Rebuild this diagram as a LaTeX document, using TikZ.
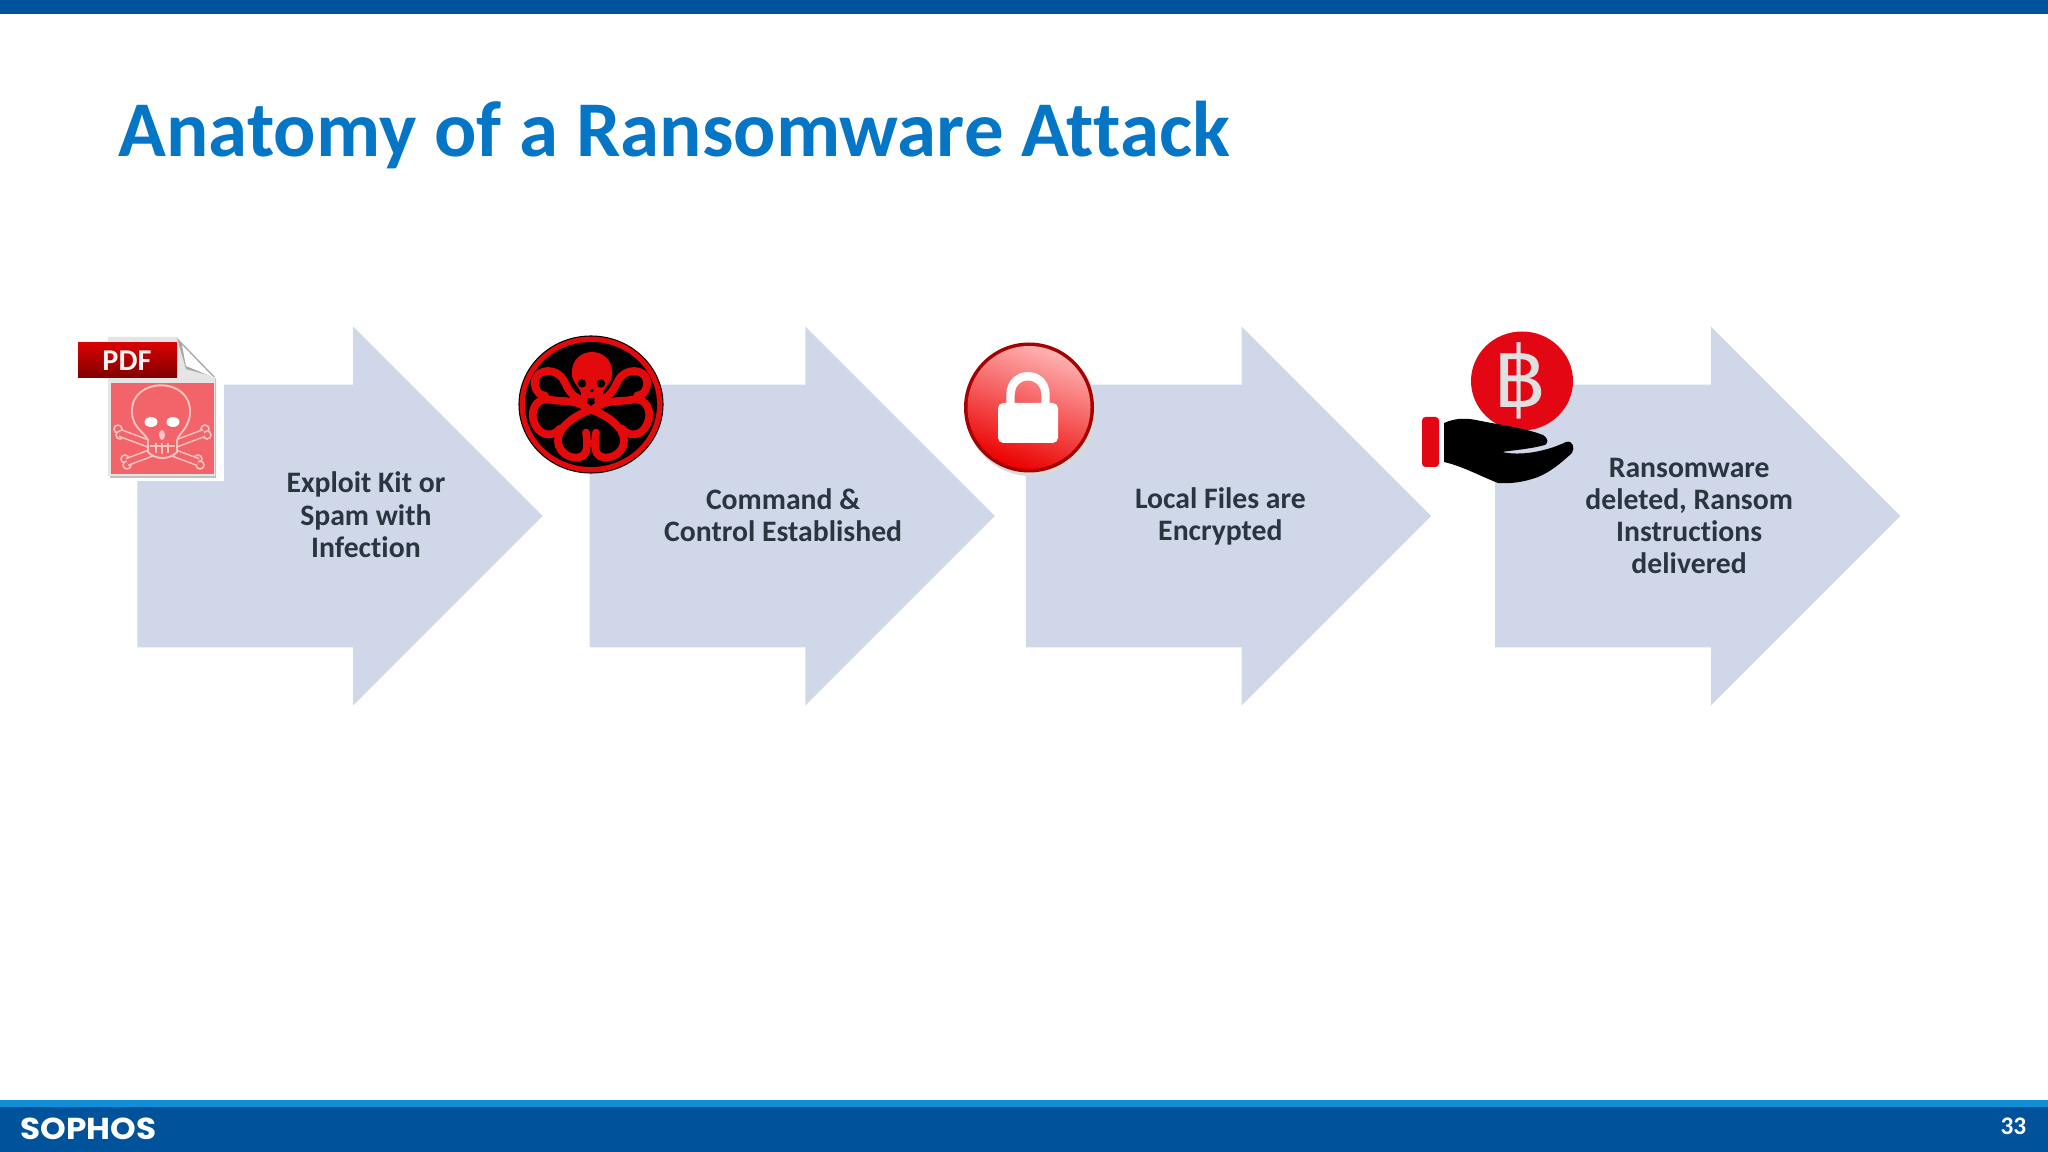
\documentclass[tikz,border=0pt]{standalone}
\usepackage{fontspec}
\setmainfont[Ligatures=NoCommon]{Carlito}
\newfontfamily\symbolfont{DejaVu Sans}
\newfontfamily\logofont{Poppins}
\usepackage{xcolor}
\usetikzlibrary{positioning,shapes.arrows}

\definecolor{topblue}{HTML}{00529B}
\definecolor{stripblue}{HTML}{0F8DD8}
\definecolor{titleblue}{HTML}{0575C5}
\definecolor{arrowblue}{HTML}{CFD7E9}
\definecolor{labelgrey}{HTML}{2B3540}
\definecolor{iconred}{HTML}{E30613}
\definecolor{hydrared}{HTML}{E20A0A}
\definecolor{pagepink}{HTML}{F2646A}
\definecolor{bonepink}{HTML}{F9C4C0}

\tikzset{
  stagearrow/.style={single arrow,fill=arrowblue,draw=none,inner xsep=0pt,inner ysep=1.305cm,anchor=tip,
    minimum height=4.05cm,minimum width=3.77cm,single arrow head extend=0.58cm,
    single arrow head indent=0cm,shape border rotate=0},
  stagelabel/.style={align=center,text=labelgrey,font=\fontsize{8.45}{9.15}\selectfont\bfseries,inner sep=0pt},
  bone/.style={line width=0.45pt,draw=bonepink,double=pagepink,double distance=1.5pt},
  tentacle/.style={draw=hydrared,line width=2.2pt,line cap=round}
}

\begin{document}
\begin{tikzpicture}[x=0.01cm,y=-0.01cm]
  \useasboundingbox (0,0) rectangle (2048,1152);

  % Frame
  \fill [topblue] (0,0) rectangle (2048,14);
  \fill [topblue] (0,1100) rectangle (2048,1152);
  \fill [stripblue] (0,1100) rectangle (2048,1107);
  \node [anchor=base west,inner sep=0pt,text=titleblue,font=\fontsize{22.45}{24}\selectfont\bfseries] (title) at (118,157) {Anatomy of a Ransomware Attack};
  \node [anchor=west,inner sep=0pt,text=white,font=\fontsize{8.6}{10}\logofont\bfseries,xscale=1.08] (logo) at (20,1129) {SOPHOS};
  \node [anchor=east,inner sep=0pt,text=white,font=\fontsize{7.2}{8}\selectfont\bfseries] (pageno) at (2027,1126) {33};

  % Stage 1
  \node [coordinate] (tip1) at (543.5,516) {};
  \node [stagearrow] (arrow1) at (tip1) {};
  \node [stagelabel] (label1) at ([xshift=-1.775cm,yshift=0.012cm]tip1) {Exploit Kit or\\Spam with\\Infection};

  % Stage 2
  \node [coordinate,right=4.52cm of tip1] (tip2) {};
  \node [stagearrow] (arrow2) at (tip2) {};
  \node [stagelabel] (label2) at ([xshift=-2.125cm,yshift=0.012cm]tip2) {Command \&\\Control Established};

  % Stage 3
  \node [coordinate,right=4.36cm of tip2] (tip3) {};
  \node [stagearrow] (arrow3) at (tip3) {};
  \node [stagelabel] (label3) at ([xshift=-2.115cm]tip3) {Local Files are\\Encrypted};

  % Stage 4
  \node [coordinate,right=4.69cm of tip3] (tip4) {};
  \node [stagearrow] (arrow4) at (tip4) {};
  \node [stagelabel] (label4) at ([xshift=-2.12cm]tip4) {Ransomware\\deleted, Ransom\\Instructions\\delivered};

  % PDF icon
  \fill [white] (100,335) rectangle (224,481);
  \fill [black!25] (110,340) -- (179,340) -- (216,379) -- (216,478) -- (110,478) -- cycle;
  \fill [black!10] (108,337) -- (177,337) -- (215,377) -- (215,476) -- (108,476) -- cycle;
  \fill [black!35] (177,338) -- (215,377) -- (186,369) -- cycle;
  \fill [white] (182,345) -- (213,377) -- (186,366) -- cycle;
  \fill [pagepink] (111,383) rectangle (214,474);
  \foreach \endx/\endy in {118/432,198/462,205/432,125/462} {
    \draw [draw=bonepink,fill=pagepink,line width=0.45pt] (\endx,\endy-3) circle [radius=4];
    \draw [draw=bonepink,fill=pagepink,line width=0.45pt] (\endx+2,\endy+3) circle [radius=4];
  }
  \draw [bone] (120,433) -- (198,462);
  \draw [bone] (204,433) -- (127,462);
  \draw [draw=bonepink,fill=pagepink,line width=0.55pt] (132,413) .. controls (130,376) and (192,376) .. (190,413) .. controls (189,428) and (180,432) .. (177,440) -- (177,452) .. controls (170,460) and (155,460) .. (148,452) -- (148,440) .. controls (144,432) and (133,428) .. (132,413) -- cycle;
  \fill [white] (151,422) circle [x radius=6.5,y radius=5];
  \fill [white] (173,422) circle [x radius=6.5,y radius=5];
  \fill [bonepink] (162,435) circle [x radius=3,y radius=5];
  \draw [bonepink,line width=0.4pt] (150,446) -- (175,446) (156,443) -- (156,453) (162,443) -- (162,454) (168,443) -- (168,453);
  \shade [top color=red!85!black,bottom color=red!50!black] (78,343) rectangle (177,378);
  \node [inner sep=0pt,text=black!5,font=\fontsize{8.6}{9}\selectfont\bfseries] (pdftag) at (127,361) {PDF};

  % Hydra icon
  \begin{scope}[shift={(591,404.5)}]
    \fill [hydrared,draw=black,line width=0.3pt] (0,0) circle [x radius=72,y radius=68.5];
    \fill [black] (0,0) circle [x radius=66,y radius=62.5];
    \fill [hydrared] (-19,-30) .. controls (-21,-60) and (23,-60) .. (21,-30) .. controls (21,-22) and (14,-18) .. (12,-12) -- (12,-6) -- (-10,-6) -- (-10,-12) .. controls (-12,-18) and (-19,-22) .. (-19,-30) -- cycle;
    \fill [black] (-9,-21) circle [radius=4.2] (10,-21) circle [radius=4.2];
    \fill [black] (1,-14) circle [radius=1.8];
    \foreach \side in {1,-1} {
      \begin{scope}[xscale=\side]
        \draw [tentacle] (-7,-4) .. controls (-24,-8) and (-24,-22) .. (-30,-28) .. controls (-40,-38) and (-58,-34) .. (-56,-19) .. controls (-55,-12) and (-50,-9) .. (-46,-9);
        \draw [tentacle] (-3,4) .. controls (-16,-6) and (-30,-2) .. (-42,-5) .. controls (-56,-7) and (-62,8) .. (-56,20) .. controls (-50,32) and (-38,33) .. (-31,24);
        \draw [tentacle] (-2,6) .. controls (-14,10) and (-33,22) .. (-33,36) .. controls (-33,52) and (-12,58) .. (-6,49) .. controls (-3,44) and (-4,34) .. (-5,28);
      \end{scope}
    }
  \end{scope}

  % Lock icon
  \begin{scope}[shift={(1029,407.5)}]
    \fill [black!15] (2,3) circle [radius=65.5];
    \fill [red!65!black] (0,0) circle [radius=65];
    \shade [shading=axis,top color=red!30!white,bottom color=red!92!black,shading angle=-20] (0,0) circle [radius=61.5];
  \end{scope}
  \fill [white,rounded corners=1.5pt] (998,403) rectangle (1058,443);
  \draw [white,line width=2.4pt] (1010.5,405) -- (1010.5,395) .. controls (1010.5,370) and (1045.5,370) .. (1045.5,395) -- (1045.5,405);

  % Coin and hand icon
  \fill [iconred] (1522,381) circle [x radius=51,y radius=49.5];
  \node [inner sep=0pt,text=black!12,font=\fontsize{24}{26}\symbolfont] (baht) at (1520,381) {\symbol{"0E3F}};
  \fill [iconred,rounded corners=1pt] (1422,417) rectangle (1439,467);
  \fill [black] (1444,423) .. controls (1455,418) and (1466,418) .. (1476,420) .. controls (1500,425) and (1525,428) .. (1543,435) .. controls (1549,439) and (1548,443) .. (1545,445) .. controls (1530,449) and (1515,450) .. (1502,452) .. controls (1520,456) and (1545,452) .. (1566,442) .. controls (1573,440) and (1575,448) .. (1572,453) .. controls (1560,464) and (1550,472) .. (1538,477) .. controls (1525,482) and (1510,484) .. (1498,483) .. controls (1480,476) and (1462,466) .. (1444,462) -- cycle;
\end{tikzpicture}
\end{document}
